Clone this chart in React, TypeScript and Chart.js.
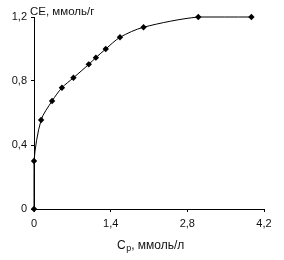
import React, { useEffect, useRef } from "react";
import { Chart, registerables } from "chart.js";

Chart.register(...registerables);

const cpValues = [0, 0, 0.13, 0.33, 0.51, 0.72, 1.0, 1.13, 1.31, 1.57, 2.0, 3.0, 3.97];
const ceValues = [0, 0.3, 0.556, 0.675, 0.758, 0.82, 0.904, 0.946, 1.0, 1.073, 1.136, 1.2, 1.2];
const xTicks = [0, 1.4, 2.8, 4.2];
const xTickLabels = ["0", "1,4", "2,8", "4,2"];
const yTicks = [0, 0.4, 0.8, 1.2];
const yTickLabels = ["0", "0,4", "0,8", "1,2"];
const yTitle = "CE, ммоль/г";
const xTitleMain = "C";
const xTitleSub = "р";
const xTitleRest = ", ммоль/л";

const FONT = "'Liberation Sans', Arial, sans-serif";

const titlesPlugin = {
  id: "titles",
  afterDraw(chart: any) {
    const { ctx, chartArea } = chart;
    ctx.save();
    ctx.fillStyle = "#111";
    ctx.textBaseline = "alphabetic";
    ctx.textAlign = "left";
    ctx.font = `11.5px ${FONT}`;
    ctx.fillText(yTitle, chartArea.left - 4, 15);
    // x title with subscript
    ctx.font = `12px ${FONT}`;
    const wMain = ctx.measureText(xTitleMain).width;
    ctx.font = `9px ${FONT}`;
    const wSub = ctx.measureText(xTitleSub).width;
    ctx.font = `12px ${FONT}`;
    const wRest = ctx.measureText(xTitleRest).width;
    let x = 117;
    const y = 249;
    ctx.fillText(xTitleMain, x, y);
    x += wMain + 0.5;
    ctx.font = `9px ${FONT}`;
    ctx.fillText(xTitleSub, x, y + 2);
    x += wSub;
    ctx.font = `12px ${FONT}`;
    ctx.fillText(xTitleRest, x, y);
    ctx.restore();
  },
};

export default function App() {
  const ref = useRef<HTMLCanvasElement | null>(null);
  useEffect(() => {
    document.body.style.margin = "0";
    const canvas = ref.current!;
    const chart = new Chart(canvas, {
      type: "line",
      data: {
        datasets: [
          {
            data: cpValues.map((x, i) => ({ x, y: ceValues[i] })),
            borderColor: "#000",
            backgroundColor: "#000",
            borderWidth: 1,
            pointStyle: "rectRot",
            pointRadius: 3.2,
            pointBorderWidth: 0,
            tension: 0.3,
            clip: false,
          } as any,
        ],
      },
      options: {
        animation: false,
        responsive: false,
        maintainAspectRatio: false,
        layout: { padding: { left: 0, top: 17, right: 20, bottom: 0 } },
        plugins: { legend: { display: false }, tooltip: { enabled: false } },
        scales: {
          x: {
            type: "linear",
            min: 0,
            max: 4.2,
            afterBuildTicks: (s: any) => {
              s.ticks = xTicks.map((v) => ({ value: v }));
            },
            afterFit: (s: any) => {
              s.height = 51;
            },
            ticks: {
              callback: (v: any) => {
                const i = xTicks.findIndex((t) => Math.abs(t - v) < 1e-6);
                return i >= 0 ? xTickLabels[i] : "";
              },
              color: "#111",
              font: { family: FONT, size: 11 },
              padding: 5,
              maxRotation: 0,
            },
            grid: {
              display: true,
              drawOnChartArea: false,
              drawTicks: true,
              tickLength: 3,
              color: "#000",
            },
            border: { display: true, color: "#000", width: 1 },
          },
          y: {
            type: "linear",
            min: 0,
            max: 1.2,
            afterBuildTicks: (s: any) => {
              s.ticks = yTicks.map((v) => ({ value: v }));
            },
            afterFit: (s: any) => {
              s.width = 34;
            },
            ticks: {
              callback: (v: any) => {
                const i = yTicks.findIndex((t) => Math.abs(t - v) < 1e-6);
                return i >= 0 ? yTickLabels[i] : "";
              },
              color: "#111",
              font: { family: FONT, size: 11 },
              padding: 4,
            },
            grid: {
              display: true,
              drawOnChartArea: false,
              drawTicks: true,
              tickLength: 3,
              color: "#000",
            },
            border: { display: true, color: "#000", width: 1 },
          },
        },
      },
      plugins: [titlesPlugin],
    });
    return () => chart.destroy();
  }, []);
  return <canvas ref={ref} width={284} height={260} style={{ display: "block", width: 284, height: 260 }} />;
}
